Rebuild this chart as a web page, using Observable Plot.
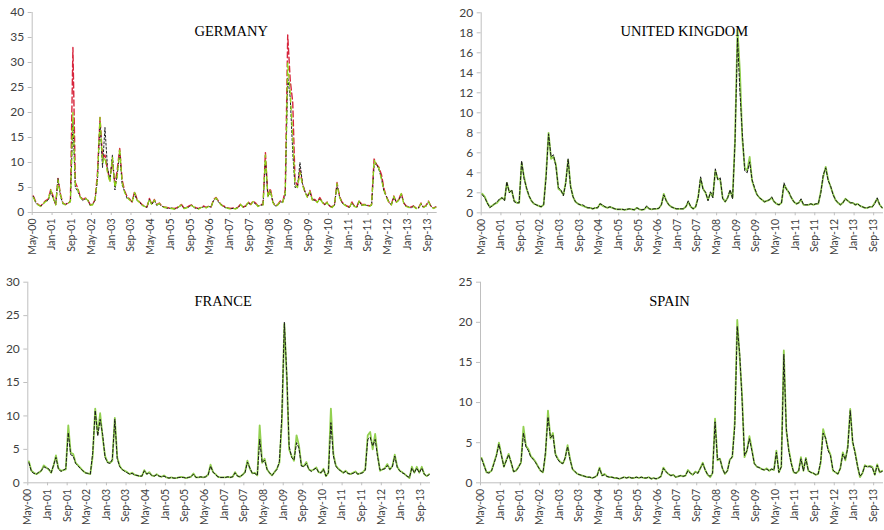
<!DOCTYPE html>
<html><head><meta charset="utf-8">
<script src="https://cdn.jsdelivr.net/npm/d3@7"></script>
<script src="https://cdn.jsdelivr.net/npm/@observablehq/plot@0.6"></script>
<style>
body{margin:0;background:#fff;}
#wrap{position:relative;width:884px;height:530px;overflow:hidden;background:#fff;}
</style></head><body><div id="wrap"></div>
<script>
// Monthly readings, May-2000 (index 0) .. Dec-2013 (index 163)
const tickLabels = ["May-00","Jan-01","Sep-01","May-02","Jan-03","Sep-03","May-04","Jan-05","Sep-05","May-06","Jan-07","Sep-07","May-08","Jan-09","Sep-09","May-10","Jan-11","Sep-11","May-12","Jan-13","Sep-13"];

const germanyGreen = [3.0,2.0,1.5,1.2,1.8,2.2,2.5,4.5,3.0,1.5,
6.5,3.5,1.8,1.5,1.8,2.2,20,5.5,4.5,3.0,
2.5,2.8,2.5,1.5,1.5,2.5,7,19,10,11,
8,6,11,5,7,12.8,6,4,3,2.5,
2,4.0,2.5,2.0,1.5,1.2,1.0,2.7,1.5,2.5,
1.5,1.8,1.2,1.0,1.0,0.8,0.8,0.7,0.8,1.2,
1.5,0.8,0.9,1.2,1.4,1.1,0.8,0.7,1.0,1.2,
0.9,1.2,1.0,2.5,2.9,2.2,1.5,1.2,1.0,0.8,
0.7,0.8,0.7,1.0,1.6,1.0,1.2,2.0,1.5,2.2,
1.8,1.2,1.5,1.5,11.5,3,4.5,2,1.2,1.5,
2.2,2.0,4,30,24,15,5.5,5,8,5.5,
4,3,4.2,2.5,2.5,2.0,2.8,2.0,1.5,2.0,
1.2,1.0,1.5,5.8,3.0,2.0,1.5,1.2,1.0,2.0,
1.2,1.0,2.3,1.5,1.5,1.5,1.2,1.5,10.5,9.5,
8.8,6.5,4.5,3,2,1.5,3.2,2,2.5,3.8,
1.8,1.2,1.0,1.0,1.2,0.8,0.8,1.8,1.0,1.3,
2.2,1.2,0.8,1.0];
const germanyBlack = [3.2,1.9,1.4,1.3,1.7,2.3,2.4,4.2,2.8,1.6,
6.8,3.2,1.7,1.6,1.9,2.1,18,5.0,4.2,3.1,
2.4,2.7,2.6,1.4,1.6,2.4,6.5,18,9,17,
9,6.5,11.5,4.5,7.5,12,5.5,4.2,2.8,2.6,
2.1,3.8,2.4,2.1,1.4,1.3,1.0,2.6,1.6,2.4,
1.4,1.7,1.3,1.0,0.9,0.8,0.9,0.7,0.8,1.1,
1.4,0.9,0.9,1.1,1.5,1.0,0.8,0.8,1.0,1.1,
1.0,1.2,1.1,2.4,2.8,2.1,1.6,1.2,0.9,0.8,
0.8,0.8,0.8,1.0,1.5,1.1,1.2,1.9,1.6,2.1,
1.7,1.3,1.4,1.6,10.5,3.2,4.2,2.1,1.3,1.4,
2.1,2.1,3.5,27,23,12,5.0,5.2,10,5.8,
4.2,3.2,4.0,2.6,2.4,2.1,2.7,2.1,1.6,1.9,
1.3,1.0,1.4,5.5,3.2,1.9,1.6,1.2,1.0,1.9,
1.3,1.0,2.2,1.4,1.6,1.4,1.3,1.4,9.5,9.8,
8.5,6.8,4.2,3.2,2.1,1.5,3.0,2.1,2.4,3.6,
1.9,1.2,1.1,0.9,1.3,0.8,0.9,1.7,1.0,1.2,
2.1,1.3,0.8,1.1];
const germanyRed = [3.3,2.1,1.6,1.3,1.9,2.4,2.7,4.6,3.2,1.6,
6.8,3.6,1.9,1.6,1.9,2.3,33,6,4.8,3.2,
2.6,2.9,2.6,1.6,1.6,2.6,8,19,11,11.5,
8.5,6.5,10.5,5.5,8.5,12.8,6.5,4.3,3.2,2.7,
2.1,4.2,2.6,2.1,1.6,1.3,1.1,2.8,1.6,2.6,
1.6,1.9,1.3,1.1,1.0,0.9,0.9,0.8,0.9,1.3,
1.6,0.9,1.0,1.3,1.5,1.2,0.9,0.8,1.1,1.3,
1.0,1.3,1.1,2.6,3.0,2.3,1.6,1.3,1.1,0.9,
0.8,0.9,0.8,1.1,1.7,1.1,1.3,2.1,1.6,2.3,
1.9,1.3,1.6,1.6,12,3.2,4.8,2.1,1.3,1.6,
2.3,2.1,4.5,35.5,26.5,22,6.5,5.3,8.5,5.8,
4.2,3.2,4.4,2.6,2.6,2.1,3.0,2.1,1.6,2.1,
1.3,1.1,1.6,6.0,3.2,2.1,1.6,1.3,1.1,2.1,
1.3,1.1,2.4,1.6,1.6,1.6,1.3,1.6,10.7,9.6,
9.0,7.5,4.8,3.2,2.1,1.6,3.3,2.1,2.6,3.9,
1.9,1.3,1.1,1.1,1.3,0.9,0.9,1.9,1.1,1.4,
2.3,1.3,0.9,1.1];

const ukBlack = [1.8,1.5,1.0,0.5,0.7,0.9,1.1,1.4,1.5,1.2,
3.1,2.0,2.3,1.1,1.0,1.0,5.2,3.4,2.5,1.7,
1.2,0.9,0.8,0.7,0.6,0.8,3.5,7.9,5.6,5.8,
4.6,2.5,2.3,1.7,2.9,5.4,2.6,1.6,1.1,0.9,
0.8,0.8,0.6,0.5,0.5,0.4,0.5,0.5,0.9,0.8,
0.6,0.5,0.6,0.5,0.4,0.35,0.35,0.35,0.3,0.35,
0.4,0.35,0.3,0.5,0.35,0.3,0.35,0.7,0.4,0.35,
0.4,0.4,0.45,0.8,1.8,1.2,0.8,0.6,0.5,0.4,
0.4,0.4,0.4,0.6,1.2,0.6,0.4,0.6,1.5,3.6,
2.3,2.1,1.2,2.1,1.5,4.4,3.3,3.5,1.4,1.1,
1.5,2.3,1.4,7.0,17.5,12,8,4.2,4.0,5.1,
3.3,2.5,1.8,1.5,1.3,1.1,1.2,1.3,1.6,1.1,
0.9,0.8,1.0,3.0,2.3,2.1,1.5,1.1,0.9,1.0,
1.4,0.8,0.8,0.8,0.9,0.8,0.9,0.9,2.0,3.8,
4.5,3.2,2.7,1.8,1.3,1.0,0.8,1.0,1.4,1.2,
1.0,1.0,0.8,0.9,0.7,0.6,0.5,0.5,0.6,0.6,
0.9,1.5,0.8,0.5];
const ukGreen = [1.9,1.6,1.0,0.6,0.7,0.9,1.0,1.3,1.5,1.3,
3.0,2.1,2.2,1.2,1.0,1.0,5.0,3.6,2.4,1.7,
1.2,0.9,0.8,0.7,0.6,0.8,3.8,8.0,5.4,5.6,
4.8,2.4,2.2,1.8,3.0,5.3,2.7,1.6,1.1,0.9,
0.8,0.7,0.6,0.5,0.5,0.4,0.5,0.5,0.9,0.7,
0.6,0.5,0.6,0.5,0.4,0.35,0.35,0.35,0.3,0.35,
0.4,0.35,0.3,0.5,0.35,0.3,0.35,0.6,0.4,0.35,
0.4,0.4,0.45,0.8,1.9,1.2,0.8,0.6,0.5,0.4,
0.4,0.4,0.4,0.6,1.1,0.6,0.4,0.6,1.6,3.4,
2.4,2.0,1.3,2.0,1.6,4.2,3.4,3.3,1.5,1.1,
1.5,2.2,1.5,7.2,18.3,14,7.5,4.5,4.2,5.6,
3.2,2.4,1.8,1.5,1.3,1.1,1.2,1.3,1.5,1.1,
0.9,0.8,1.0,2.8,2.4,2.0,1.5,1.1,0.9,1.0,
1.3,0.8,0.8,0.8,0.9,0.8,0.9,0.9,2.1,3.6,
4.6,3.3,2.6,1.9,1.3,1.0,0.8,1.0,1.4,1.2,
1.0,1.0,0.8,0.9,0.7,0.6,0.5,0.5,0.6,0.6,
1.0,1.4,0.8,0.5];

const franceGreen = [3.2,1.8,1.5,1.3,1.5,1.8,2.6,2.3,2.0,1.5,
2.5,4.1,2.2,1.8,1.9,2.0,8.6,4.5,4.3,3.0,
2.6,2.2,1.8,1.5,1.4,1.3,4.0,11.1,7.3,10.4,
6.8,4.0,3.1,3.0,3.3,9.7,3.8,2.5,2.0,1.8,
1.6,1.3,1.5,1.2,1.1,1.0,1.0,1.9,1.3,1.6,
1.1,1.0,1.3,1.0,0.9,1.1,0.8,0.7,0.8,0.7,
0.7,0.8,0.9,0.8,0.7,0.8,0.9,1.4,0.8,0.8,
0.9,0.8,0.9,1.2,2.7,1.6,1.3,0.9,0.8,0.8,
0.8,0.9,0.8,0.9,1.6,1.0,0.9,1.2,1.6,3.3,
2.1,1.4,1.5,1.1,8.6,3.0,3.6,2.0,1.5,1.1,
1.6,2.1,3.0,9.1,23.8,15.5,5.0,4.0,3.3,7.1,
5.6,2.6,2.5,3.1,2.0,1.8,2.0,2.3,1.6,1.5,
2.1,1.0,1.5,11.1,4.3,2.6,2.1,1.8,1.5,1.8,
1.4,1.3,1.5,1.7,1.3,1.4,1.6,2.0,7.1,7.6,
5.0,7.3,4.3,1.8,2.0,2.2,2.8,2.0,2.5,4.2,
2.4,1.8,1.6,1.3,1.0,0.7,2.4,1.5,2.4,1.5,
2.4,1.3,1.0,1.3];
const franceBlack = [3.0,1.7,1.4,1.3,1.6,1.8,2.4,2.2,2.1,1.5,
2.6,3.8,2.1,1.7,1.9,2.1,7.5,4.2,4.0,2.9,
2.5,2.1,1.8,1.5,1.4,1.3,4.5,10.8,7.0,9.5,
7.2,3.8,3.0,2.9,3.5,9.5,3.6,2.4,2.0,1.7,
1.5,1.3,1.4,1.2,1.1,1.0,1.0,1.8,1.3,1.5,
1.1,1.0,1.2,1.0,0.9,1.0,0.8,0.7,0.8,0.7,
0.7,0.8,0.8,0.8,0.7,0.8,0.9,1.3,0.8,0.8,
0.9,0.8,0.9,1.2,2.5,1.6,1.2,0.9,0.8,0.8,
0.8,0.9,0.8,0.9,1.5,1.0,0.9,1.2,1.5,3.1,
2.2,1.4,1.4,1.1,6.5,3.0,3.4,2.0,1.5,1.1,
1.6,2.0,3.2,10,24,16,5.5,3.8,3.4,6.0,
5.2,2.5,2.4,2.9,2.0,1.7,2.0,2.2,1.6,1.5,
2.0,1.0,1.5,9.0,4.0,2.5,2.0,1.8,1.5,1.7,
1.4,1.3,1.4,1.6,1.3,1.4,1.5,1.9,6.5,6.8,
5.5,6.5,4.0,1.9,2.0,2.1,2.6,2.0,2.4,4.0,
2.3,1.8,1.5,1.3,1.0,0.8,2.2,1.5,2.2,1.5,
2.2,1.3,1.0,1.2];

const spainGreen = [3.1,2.2,1.3,1.3,1.5,2.5,3.5,5.0,3.5,2.0,
2.8,3.6,2.5,1.4,1.5,2.0,2.5,7.0,4.6,4.2,
3.3,3.0,2.6,2.0,1.5,1.3,3.5,9.0,5.5,6.2,
3.6,3.0,2.6,2.4,3.0,4.7,3.0,1.7,1.4,1.1,
1.0,0.9,0.8,0.7,0.7,0.6,0.7,0.9,1.9,0.9,
1.1,0.8,0.7,0.7,0.6,0.6,0.5,0.6,0.7,0.6,
0.7,0.6,0.6,0.7,0.6,0.7,0.6,0.6,0.7,0.5,
0.6,0.5,0.6,0.8,1.9,1.4,1.1,0.9,1.0,0.7,
0.8,0.9,0.8,0.9,1.6,1.2,1.0,1.4,1.2,1.8,
2.5,1.6,1.0,0.7,1.2,8.0,2.8,3.0,1.8,1.1,
1.5,2.9,3.2,7.5,20.3,15.5,11,3.2,4.0,5.8,
4.2,2.4,2.0,1.9,1.7,1.6,1.8,1.5,1.7,1.6,
4.0,1.3,2.0,16.5,6.5,4.2,2.5,1.3,1.2,1.5,
3.2,1.5,3.1,1.5,1.3,1.2,1.0,1.1,2.5,6.7,
5.5,4.2,3.5,1.5,1.3,1.1,1.8,3.8,2.8,4.5,
9.2,5.0,3.8,2.0,0.7,1.2,2.2,2.0,2.1,2.0,
1.0,2.3,1.3,1.5];
const spainBlack = [3.0,2.1,1.3,1.2,1.5,2.4,3.4,4.8,3.4,2.0,
2.7,3.5,2.6,1.4,1.5,1.9,2.6,6.2,4.5,4.0,
3.2,2.9,2.5,2.0,1.5,1.3,3.8,8.2,5.6,6.0,
3.5,2.9,2.5,2.4,3.1,4.5,2.9,1.7,1.4,1.1,
1.0,0.9,0.8,0.7,0.7,0.6,0.7,0.9,1.8,0.9,
1.0,0.8,0.7,0.7,0.6,0.6,0.5,0.6,0.7,0.6,
0.7,0.6,0.6,0.7,0.6,0.7,0.6,0.6,0.7,0.5,
0.6,0.5,0.6,0.8,1.8,1.4,1.1,0.9,1.0,0.7,
0.8,0.9,0.8,0.9,1.5,1.2,1.0,1.3,1.2,1.8,
2.4,1.6,1.0,0.8,1.2,7.6,2.9,3.0,1.8,1.1,
1.5,2.8,3.3,7.0,19.5,16,10.5,3.4,4.0,5.5,
4.0,2.4,2.0,1.9,1.7,1.6,1.7,1.5,1.7,1.6,
3.8,1.3,2.0,16,6.8,4.0,2.4,1.3,1.2,1.5,
3.0,1.5,3.0,1.5,1.3,1.2,1.0,1.1,2.7,6.2,
5.6,4.0,3.4,1.6,1.3,1.1,1.8,3.6,2.9,4.3,
9.0,5.2,3.6,2.0,0.8,1.2,2.1,2.0,2.0,1.9,
1.0,2.2,1.3,1.4];

const xStart = new Date(Date.UTC(2000, 4, 1));
const xEnd = new Date(Date.UTC(2014, 0, 1));
const tickDates = tickLabels.map(d3.utcParse("%b-%y"));
const monthDate = j => new Date(Date.UTC(2000, 4 + j, 15));
const wrap = document.getElementById("wrap");

function makePanel(cfg) {
  const marks = [
    Plot.ruleY([0], {stroke: "#bfbfbf"}),
    Plot.ruleX([xStart], {stroke: "#bfbfbf"}),
    Plot.axisY({ticks: cfg.yTicks, tickSize: 4, tickPadding: 4, stroke: "#bfbfbf", fill: "#404040",
      fontSize: 12, fontFamily: "Lato", label: null}),
    Plot.axisX({ticks: tickDates, tickFormat: d3.utcFormat("%b-%y"), tickRotate: -90, tickSize: 3, tickPadding: 3,
      stroke: "#bfbfbf", fill: "#404040", fontSize: 10.5, fontFamily: "Lato", label: null})
  ];
  for (const s of cfg.series) {
    marks.push(Plot.lineY(s.values.map((v, j) => ({date: monthDate(j), value: v})),
      {x: "date", y: "value", stroke: s.color, strokeWidth: s.width, strokeDasharray: s.dash}));
  }
  marks.push(Plot.text([cfg.title], {text: d => d, frameAnchor: "top", dx: cfg.tdx, dy: cfg.tdy,
    fontFamily: "Liberation Serif", fontSize: 14.5, fill: "#000"}));
  const svg = Plot.plot({
    width: cfg.w, height: cfg.h,
    marginLeft: cfg.ml, marginRight: cfg.mr, marginTop: cfg.mt, marginBottom: cfg.mb,
    x: {type: "utc", domain: [xStart, xEnd], label: null},
    y: {domain: [0, cfg.yMax], label: null},
    style: {background: "transparent", overflow: "visible"},
    marks
  });
  svg.style.position = "absolute";
  svg.style.left = cfg.left + "px";
  svg.style.top = cfg.top + "px";
  wrap.appendChild(svg);
}

const green2 = {color: "#92D050", width: 1.8, dash: null};
const black2 = {color: "#1a1a1a", width: 1, dash: "3,2"};

makePanel({title: "GERMANY", left: 0, top: 0, w: 442, h: 265, ml: 31.7, mr: 5.3, mt: 12, mb: 53,
  yMax: 40, yTicks: d3.range(0, 41, 5), tdx: -3.5, tdy: 13,
  series: [
    {values: germanyRed, color: "#D7263D", width: 1.4, dash: "6,3"},
    {values: germanyBlack, color: "#222", width: 1, dash: "2,2"},
    {values: germanyGreen, color: "#8CD317", width: 1.3, dash: "4,4"}
  ]});
makePanel({title: "UNITED KINGDOM", left: 440, top: 0, w: 444, h: 265, ml: 40.7, mr: 1, mt: 12.3, mb: 52.7,
  yMax: 20, yTicks: d3.range(0, 21, 2), tdx: 2, tdy: 13,
  series: [{values: ukGreen, ...green2}, {values: ukBlack, ...black2}]});
makePanel({title: "FRANCE", left: 0, top: 265, w: 442, h: 265, ml: 27.3, mr: 12, mt: 16.7, mb: 47.7,
  yMax: 30, yTicks: d3.range(0, 31, 5), tdx: -6, tdy: 13.5,
  series: [{values: franceGreen, ...green2}, {values: franceBlack, ...black2}]});
makePanel({title: "SPAIN", left: 440, top: 265, w: 444, h: 265, ml: 40, mr: 1, mt: 16.7, mb: 47.7,
  yMax: 25, yTicks: d3.range(0, 26, 5), tdx: -12.5, tdy: 14,
  series: [{values: spainGreen, ...green2}, {values: spainBlack, ...black2}]});
</script></body></html>
